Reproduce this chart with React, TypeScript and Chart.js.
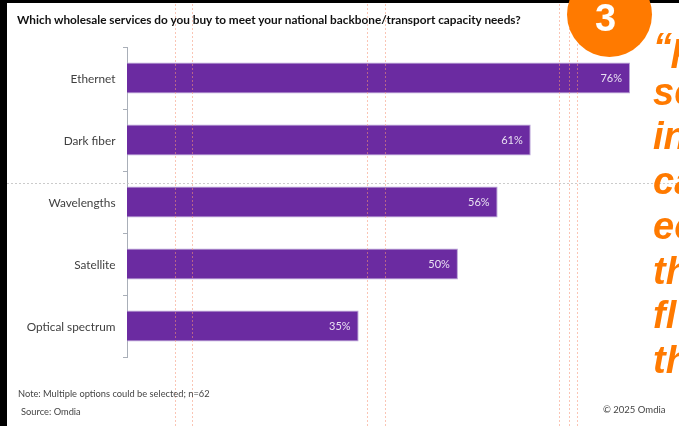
import React, { useEffect, useRef } from "react";
import { Chart, registerables } from "chart.js";

Chart.register(...registerables);

const categories = ["Ethernet", "Dark fiber", "Wavelengths", "Satellite", "Optical spectrum"];
const shares = [76, 61, 56, 50, 35];
const headline = "Which wholesale services do you buy to meet your national backbone/transport capacity needs?";
const note = "Note: Multiple options could be selected; n=62";
const source = "Source: Omdia";
const copyright = "© 2025 Omdia";
const calloutNumber = "3";
const quoteLines = ["“p", "se", "in", "ca", "ec", "th", "fl", "th"];
const slideGuidesX = [175.5, 192.5, 367.5, 385.5, 559.5, 569.5, 577.5];
const slideGuideY = 183.5;

const BODY_FONT = "Lato, Carlito, sans-serif";
const HEAVY_FONT = "'Liberation Sans', Arial, sans-serif";
const ORANGE = "#ff7a00";

// Dotted slide guides, painted over the bars.
const guidesPlugin = {
  id: "slideGuides",
  afterDatasetsDraw(chart: Chart) {
    const { ctx, width, height } = chart;
    ctx.save();
    ctx.lineWidth = 1;
    ctx.setLineDash([2, 2]);
    ctx.strokeStyle = "rgba(190,190,190,0.8)";
    ctx.beginPath();
    ctx.moveTo(7, slideGuideY);
    ctx.lineTo(width, slideGuideY);
    ctx.stroke();
    ctx.strokeStyle = "rgba(245,150,120,0.55)";
    for (const x of slideGuidesX) {
      ctx.beginPath();
      ctx.moveTo(x, 4);
      ctx.lineTo(x, height);
      ctx.stroke();
    }
    ctx.restore();
  },
};

// Category names left of the axis and percentages inside the end of each bar.
const barLabelsPlugin = {
  id: "barLabels",
  afterDatasetsDraw(chart: Chart) {
    const { ctx } = chart;
    const meta = chart.getDatasetMeta(0);
    ctx.save();
    ctx.textAlign = "right";
    ctx.textBaseline = "middle";
    meta.data.forEach((bar: any, i: number) => {
      ctx.font = `11.8px ${BODY_FONT}`;
      ctx.fillStyle = "#404040";
      ctx.fillText(categories[i], 115.5, bar.y + 1);
      ctx.font = `11px ${BODY_FONT}`;
      ctx.fillStyle = "#e9e1f2";
      ctx.fillText(`${shares[i]}%`, bar.x - 8, bar.y + 0.5);
    });
    ctx.restore();
  },
};

function Text({ style, children }: { style: React.CSSProperties; children: React.ReactNode }) {
  return <div style={{ position: "absolute", whiteSpace: "nowrap", lineHeight: 1, ...style }}>{children}</div>;
}

export default function App() {
  const canvasRef = useRef<HTMLCanvasElement>(null);

  useEffect(() => {
    if (!canvasRef.current) return;
    const chart = new Chart(canvasRef.current, {
      type: "bar",
      data: {
        labels: categories,
        datasets: [
          {
            data: shares,
            backgroundColor: "#6b2ba1",
            borderColor: "#b9a2d6",
            borderWidth: { top: 1, bottom: 1, right: 1, left: 0 },
            barPercentage: 0.5,
            categoryPercentage: 1,
          },
        ],
      },
      options: {
        indexAxis: "y",
        responsive: false,
        animation: false,
        layout: { padding: { left: 0, top: 47, right: 49, bottom: 69 } },
        plugins: { legend: { display: false }, tooltip: { enabled: false }, title: { display: false } },
        scales: {
          x: { display: false, min: 0, max: 76 },
          y: {
            afterFit(scale: any) {
              scale.width = 127;
            },
            border: { display: true, color: "#a9afb8", width: 1 },
            grid: { drawOnChartArea: false, drawTicks: true, tickLength: 4, color: "#a9afb8", offset: true },
            ticks: { display: false },
          },
        },
      },
      plugins: [guidesPlugin, barLabelsPlugin],
    } as any);
    return () => chart.destroy();
  }, []);

  return (
    <div style={{ position: "fixed", left: 0, top: 0, width: 679, height: 426, overflow: "hidden", background: "#fff" }}>
      <canvas ref={canvasRef} width={679} height={426} style={{ position: "absolute", left: 0, top: 0, display: "block" }} />
      <div style={{ position: "absolute", left: 0, top: 0, width: 679, height: 3, background: "#000" }} />
      <div style={{ position: "absolute", left: 0, top: 0, width: 7, height: 426, background: "#000" }} />
      <Text style={{ left: 17, top: 14, fontFamily: BODY_FONT, fontWeight: 700, fontSize: 11.8, color: "#111" }}>{headline}</Text>
      <Text style={{ left: 18, top: 389, fontFamily: BODY_FONT, fontSize: 9.3, color: "#444" }}>{note}</Text>
      <Text style={{ left: 21, top: 407, fontFamily: BODY_FONT, fontSize: 9.3, color: "#444" }}>{source}</Text>
      <Text style={{ left: 603, top: 405, fontFamily: BODY_FONT, fontSize: 9.5, color: "#444" }}>{copyright}</Text>
      <div style={{ position: "absolute", left: 566.5, top: -28, width: 85, height: 85, borderRadius: "50%", background: ORANGE }} />
      <Text style={{ left: 595, top: -1, fontFamily: HEAVY_FONT, fontWeight: 700, fontSize: 38, color: "#fff" }}>{calloutNumber}</Text>
      {quoteLines.map((line, i) => (
        <Text
          key={i}
          style={{
            left: 653,
            top: 28 + i * 44.7,
            fontFamily: HEAVY_FONT,
            fontWeight: 700,
            fontStyle: "italic",
            fontSize: 38,
            color: ORANGE,
          }}
        >
          {line}
        </Text>
      ))}
    </div>
  );
}
